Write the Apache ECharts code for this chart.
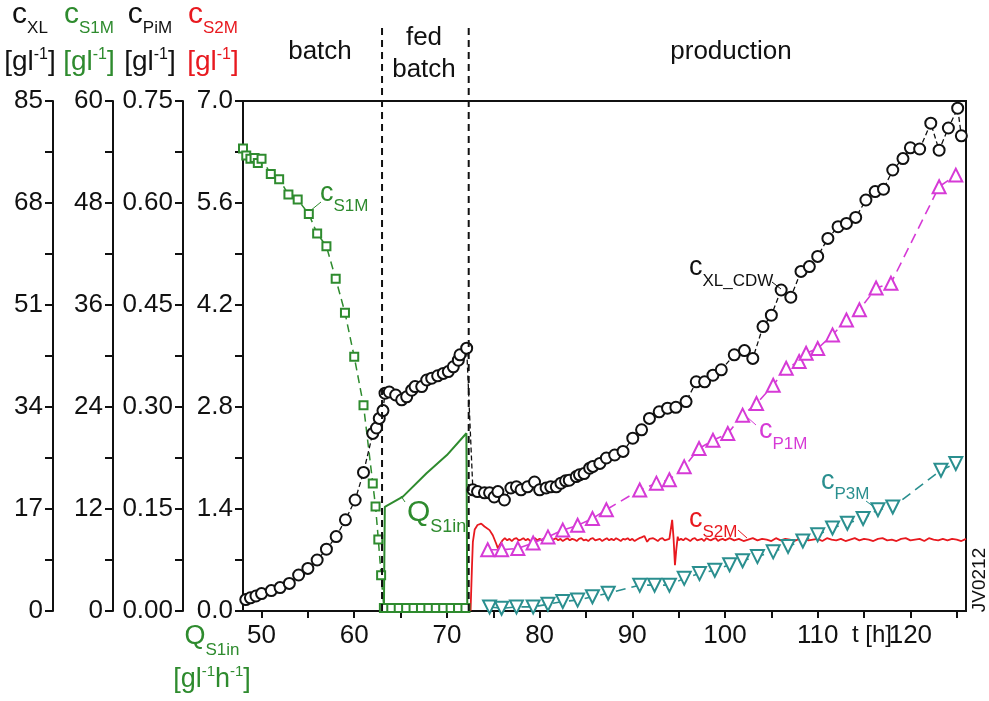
<!DOCTYPE html>
<html>
<head>
<meta charset="utf-8">
<script src="https://cdn.jsdelivr.net/npm/echarts@6/dist/echarts.min.js"></script>
<style>
  html, body { margin: 0; padding: 0; background: #fff; }
  #chart { width: 989px; height: 701px; }
</style>
</head>
<body>
<div id="chart"></div>
<script>
// ---- time axis ----
const X_TICKS = [50, 55, 60, 65, 70, 75, 80, 85, 90, 95, 100, 105, 110, 115, 120, 125];
const X_LABELS = [50, 60, 70, 80, 90, 100, 110, 120];

// ---- left axes: label values and tick values ----
const XL_AXIS_LABELS = [0, 17, 34, 51, 68, 85];
const XL_AXIS_TICKS = [0, 8.5, 17, 25.5, 34, 42.5, 51, 59.5, 68, 76.5, 85];
const S1M_AXIS_LABELS = [0, 12, 24, 36, 48, 60];
const S1M_AXIS_TICKS = [0, 6, 12, 18, 24, 30, 36, 42, 48, 54, 60];
const PIM_AXIS_LABELS = [0, 0.15, 0.30, 0.45, 0.60, 0.75];
const PIM_AXIS_TICKS = [0, 0.075, 0.15, 0.225, 0.30, 0.375, 0.45, 0.525, 0.60, 0.675, 0.75];
const S2M_AXIS_LABELS = [0, 1.4, 2.8, 4.2, 5.6, 7.0];
const S2M_AXIS_TICKS = [0, 0.7, 1.4, 2.1, 2.8, 3.5, 4.2, 4.9, 5.6, 6.3, 7.0];

// ---- process phase boundaries [h] ----
const PHASE_BOUNDS = [63.0, 72.35];

// ---- biomass c_XL_CDW [g/l] ----
const XL_T = [48.3, 48.8, 49.4, 50.0, 51.05, 52.0, 53.0, 54.0, 55.0, 56.0, 57.0, 58.05, 59.05, 60.1, 61.0, 62.0, 62.4, 62.7, 63.1,
  63.32, 63.78, 64.47, 65.12, 65.66, 66.2, 66.56, 67.28, 67.82, 68.36, 69.0, 69.61, 70.15, 70.69, 71.23, 71.41, 72.13,
  72.8, 73.3, 74.05, 74.6, 75.1, 75.5, 76.2, 76.9, 77.5, 78.0, 78.7, 79.45, 80.0, 80.7, 81.2, 81.8, 82.3, 82.8, 83.2, 83.95,
  84.3, 84.8, 85.4, 85.75, 86.5, 87.2, 88.1, 89.0, 90.05, 91.0, 91.85, 92.9, 93.8, 94.7, 95.8, 96.9, 97.8, 98.7, 99.6,
  101.0, 102.1, 103.0, 104.1, 105.0, 106.06, 107.1, 108.2, 109.1, 110.0, 111.1, 112.2, 113.1, 114.1, 115.2, 116.2, 117.1,
  118.1, 119.2, 120.0, 121.0, 122.2, 123.1, 124.1, 125.1, 125.5];
const XL_V = [1.9, 2.2, 2.5, 2.9, 3.4, 3.9, 4.6, 6.0, 7.1, 8.5, 10.3, 12.4, 15.2, 18.5, 23.1, 29.6, 30.5, 32.1, 33.4,
  36.3, 36.5, 36.0, 35.2, 35.7, 36.8, 37.4, 37.4, 38.5, 38.8, 39.2, 39.6, 39.9, 40.7, 41.8, 42.7, 43.8,
  20.2, 19.9, 19.7, 19.7, 19.0, 19.9, 18.5, 20.5, 20.7, 20.2, 20.7, 21.5, 20.2, 20.5, 20.7, 20.7, 21.3, 21.7, 21.8, 22.4,
  22.7, 22.9, 23.8, 24.1, 24.6, 25.5, 26.0, 26.6, 28.8, 30.2, 32.1, 33.2, 33.8, 33.95, 34.9, 38.2, 38.2, 39.3, 40.2,
  42.7, 43.4, 42.1, 47.4, 49.3, 53.5, 52.3, 56.6, 57.4, 59.1, 62.1, 64.05, 64.6, 65.6, 68.5, 69.9, 70.3,
  73.5, 75.4, 77.2, 77.0, 81.3, 76.8, 80.5, 83.8, 79.2];

// ---- substrate 1 in the medium c_S1M [g/l] ----
const S1M_T = [48.0, 48.35, 48.8, 49.25, 49.6, 50.0, 51.0, 51.9, 52.9, 53.9, 55.1, 56.0, 57.0, 58.0, 59.0, 60.0, 61.0, 62.0,
  62.3, 62.6, 62.9, 63.2, 64.0, 64.8, 65.6, 66.4, 67.2, 68.0, 68.8, 69.6, 70.4, 71.2, 72.0];
const S1M_V = [54.4, 53.6, 53.2, 53.3, 52.7, 53.2, 51.4, 50.8, 49.0, 48.4, 46.7, 44.4, 42.9, 39.1, 35.1, 29.9, 24.2, 15.0,
  12.3, 8.4, 4.2, 0.35, 0.35, 0.35, 0.35, 0.35, 0.35, 0.35, 0.35, 0.35, 0.35, 0.35, 0.35];

// ---- feed rate Q_S1in [g/(l h)] ----
const Q_T = [63.2, 63.3, 65.25, 67.8, 70.0, 72.1, 72.2];
const Q_V = [0, 1.43, 1.57, 1.89, 2.14, 2.44, 0];

// ---- substrate 2 in the medium c_S2M [g/l] ----
const S2M_T = [72.55, 72.7, 72.8, 73.0, 73.3, 73.7, 74.05, 74.6, 74.95, 75.3, 75.5, 75.7, 76.0,
  76.25, 76.5, 76.75, 77.0, 77.25, 77.5, 77.75, 78.0, 78.25, 78.5, 78.75, 79.0, 79.25, 79.5, 79.75, 80.0,
  80.25, 80.5, 80.75, 81.0, 81.25, 81.5, 81.75, 82.0, 82.25, 82.5, 82.75, 83.0, 83.25, 83.5, 83.75, 84.0,
  84.25, 84.5, 84.75, 85.0, 85.25, 85.5, 85.75, 86.0, 86.25, 86.5, 86.75, 87.0, 87.25, 87.5, 87.75, 88.0,
  88.25, 88.5, 88.75, 89.0, 89.25, 89.5, 89.75, 90.0, 90.25, 90.5, 90.75, 91.0, 91.3, 91.6, 91.85, 92.0,
  92.25, 92.5, 92.75, 93.0, 93.25, 93.5, 93.75, 94.0,
  94.2, 94.3, 94.45, 94.6, 94.75, 94.9, 95.0, 95.25, 95.5, 95.75, 96.0, 96.25, 96.5, 96.75, 97.0,
  97.25, 97.5, 97.75, 98.0, 98.25, 98.5, 98.75, 99.0, 99.25, 99.5, 99.75, 100.0, 100.5, 101.0, 101.5, 102.0,
  102.5, 103.0, 103.5, 104.0, 104.5, 105.0, 105.5, 106.0, 106.5, 107.0, 107.5, 108.0,
  108.5, 109.0, 109.5, 110.0, 110.5, 111.0, 111.5, 112.0, 112.5, 113.0, 113.5, 114.0, 114.5, 115.0, 115.5, 116.0,
  116.5, 117.0, 117.5, 118.0, 118.5, 119.0, 119.5, 120.0, 120.5, 121.0, 121.5, 122.0, 122.5, 123.0, 123.5, 124.0,
  124.5, 125.0, 125.5, 126.0];
const S2M_V = [0, 0.6, 0.95, 1.12, 1.18, 1.20, 1.16, 1.11, 1.04, 0.93, 0.86, 0.91, 0.97,
  1.00, 0.97, 0.99, 0.96, 0.99, 1.00, 0.97, 0.98, 1.00, 0.97, 0.99, 0.96, 0.98, 1.00, 0.97, 0.99,
  0.97, 1.00, 0.98, 0.96, 0.99, 0.98, 1.00, 0.97, 0.99, 0.96, 0.98, 1.00, 0.97, 0.99, 0.98, 0.96,
  0.99, 1.00, 0.97, 0.98, 0.96, 0.99, 1.00, 0.97, 0.98, 0.99, 0.96, 0.98, 1.00, 0.97, 0.99, 0.97,
  1.00, 0.98, 0.96, 0.99, 0.98, 1.00, 0.97, 0.99, 0.96, 0.98, 1.00, 1.01, 1.03, 0.95, 0.99, 0.97,
  1.00, 0.98, 0.96, 0.99, 1.00, 0.97, 0.98, 0.99,
  0.99, 1.25, 1.00, 0.63, 0.85, 1.02, 0.97, 0.99, 0.97, 1.00, 0.98, 0.96, 0.99, 1.00, 0.97,
  0.98, 0.99, 0.96, 1.00, 0.98, 0.97, 0.99, 1.00, 0.96, 0.98, 0.99, 0.97, 1.00, 0.97, 0.99, 0.96,
  0.98, 1.00, 0.97, 0.99, 0.98, 0.96, 1.00, 0.97, 0.99, 0.98, 0.96, 0.99,
  1.00, 0.97, 0.98, 0.99, 0.96, 1.00, 0.98, 0.97, 0.99, 0.96, 0.98, 1.00, 0.97, 0.99, 0.98, 0.96,
  0.99, 1.00, 0.97, 0.98, 0.96, 0.99, 1.00, 0.97, 0.98, 0.99, 0.96, 1.00, 0.98, 0.97, 0.99, 0.97,
  0.99, 0.98, 0.96, 0.99];

// ---- product P1 c_P1M [g/l] ----
const P1M_T = [74.4, 75.9, 77.65, 79.3, 80.9, 82.5, 84.1, 85.7, 87.2, 90.8, 92.6, 94.0, 95.6, 97.2, 98.7, 100.3, 101.9,
  103.4, 105.2, 106.6, 108.0, 108.75, 110.0, 111.6, 113.1, 114.5, 116.3, 117.9, 123.1, 124.9];
const P1M_V = [0.090, 0.090, 0.092, 0.100, 0.109, 0.119, 0.126, 0.136, 0.149, 0.178, 0.188, 0.193, 0.212, 0.239, 0.251,
  0.261, 0.288, 0.305, 0.332, 0.357, 0.367, 0.379, 0.386, 0.406, 0.428, 0.443, 0.475, 0.482, 0.624, 0.641];

// ---- product P3 c_P3M [g/l] ----
const P3M_T = [74.6, 75.9, 77.5, 79.3, 80.9, 82.5, 84.1, 85.7, 87.4, 90.8, 92.4, 94.0, 95.6, 97.25, 98.9, 100.5, 101.9,
  103.5, 105.2, 106.8, 108.4, 110.0, 111.6, 113.2, 114.9, 116.5, 118.1, 123.3, 124.9];
const P3M_V = [0.006, 0.004, 0.006, 0.006, 0.010, 0.014, 0.016, 0.021, 0.026, 0.038, 0.038, 0.038, 0.048, 0.055, 0.060,
  0.068, 0.074, 0.080, 0.087, 0.095, 0.103, 0.112, 0.122, 0.129, 0.136, 0.149, 0.153, 0.207, 0.217];

// ---- styling ----
const FONT = '"Liberation Sans", Arial, Helvetica, sans-serif';
const BLACK = '#111111';
const GREEN = '#2e8b2e';
const RED = '#e8191f';
const MAGENTA = '#d63ad6';
const TEAL = '#2a8f8f';

const zip = (t, v) => t.map((x, i) => [x, v[i]]);

function yAxisDef(offset, max, labels, ticks, digits) {
  return {
    type: 'value', position: 'left', offset: offset, min: 0, max: max,
    axisLine: { show: true, onZero: false, lineStyle: { color: BLACK, width: 2 } },
    axisTick: { show: true, inside: false, length: 8, customValues: ticks, lineStyle: { color: BLACK, width: 2 } },
    axisLabel: {
      show: true, color: BLACK, fontSize: 26, fontFamily: FONT, margin: 10,
      customValues: labels, formatter: v => Number(v).toFixed(digits)
    },
    splitLine: { show: false }
  };
}

const chart = echarts.init(document.getElementById('chart'), null, { renderer: 'canvas' });

const option = {
  animation: false,
  backgroundColor: '#fff',
  grid: { left: 243, right: 23, top: 101, bottom: 90, show: true, borderColor: BLACK, borderWidth: 2, backgroundColor: 'transparent' },
  xAxis: {
    type: 'value', min: 48, max: 126, position: 'bottom',
    axisLine: { onZero: false, lineStyle: { color: BLACK, width: 2 } },
    axisTick: { show: true, length: 7, customValues: X_TICKS, lineStyle: { color: BLACK, width: 2 } },
    axisLabel: { color: BLACK, fontSize: 26, fontFamily: FONT, margin: 12, customValues: X_LABELS },
    splitLine: { show: false }
  },
  yAxis: [
    yAxisDef(0, 7.0, S2M_AXIS_LABELS, S2M_AXIS_TICKS, 1),
    yAxisDef(60, 0.75, PIM_AXIS_LABELS, PIM_AXIS_TICKS, 2),
    yAxisDef(130, 60, S1M_AXIS_LABELS, S1M_AXIS_TICKS, 0),
    yAxisDef(190, 85, XL_AXIS_LABELS, XL_AXIS_TICKS, 0)
  ],
  series: [
    {
      name: 'Q_S1in', type: 'line', yAxisIndex: 0, data: zip(Q_T, Q_V),
      showSymbol: false, lineStyle: { color: GREEN, width: 2 }, z: 3
    },
    {
      name: 'c_S1M', type: 'line', yAxisIndex: 2, data: zip(S1M_T, S1M_V),
      symbol: 'emptyRect', symbolSize: 8, itemStyle: { color: GREEN, borderWidth: 1.4 },
      lineStyle: { color: GREEN, width: 1.5, type: [8, 5] }, z: 4
    },
    {
      name: 'c_XL_CDW', type: 'line', yAxisIndex: 3, data: zip(XL_T, XL_V),
      symbol: 'emptyCircle', symbolSize: 11, itemStyle: { color: BLACK, borderWidth: 1.4 },
      lineStyle: { color: BLACK, width: 1.3, type: [5, 3] }, z: 5
    },
    {
      name: 'c_S2M', type: 'line', yAxisIndex: 0, data: zip(S2M_T, S2M_V),
      showSymbol: false, lineStyle: { color: RED, width: 1.8 }, z: 4
    },
    {
      name: 'c_P1M', type: 'line', yAxisIndex: 1, data: zip(P1M_T, P1M_V),
      symbol: 'emptyTriangle', symbolSize: 13, itemStyle: { color: MAGENTA, borderWidth: 1.5 },
      lineStyle: { color: MAGENTA, width: 1.6, type: [10, 6] }, z: 5
    },
    {
      name: 'c_P3M', type: 'line', yAxisIndex: 1, data: zip(P3M_T, P3M_V),
      symbol: 'emptyTriangle', symbolRotate: 180, symbolSize: 13, itemStyle: { color: TEAL, borderWidth: 1.5 },
      lineStyle: { color: TEAL, width: 1.6, type: [10, 6] }, z: 5
    }
  ].map(s => Object.assign({ silent: true, emphasis: { disabled: true }, clip: true }, s))
};

chart.setOption(option);

// ---- text with sub/superscripts, built from pieces [text, size, dy] ----
const measureCtx = document.createElement('canvas').getContext('2d');
function textWidth(t, size) { measureCtx.font = size + 'px ' + FONT; return measureCtx.measureText(t).width; }
function composed(parts, x, baseY, color, anchor) {
  const total = parts.reduce((s, p) => s + textWidth(p[0], p[1]), 0);
  let cx = anchor === 'center' ? x - total / 2 : (anchor === 'right' ? x - total : x);
  return parts.map(([t, size, dy]) => {
    const el = {
      type: 'text', silent: true, z: 100,
      style: { text: t, x: cx, y: baseY + (dy || 0) - 0.35 * size, font: size + 'px ' + FONT, fill: color, align: 'left', verticalAlign: 'middle' }
    };
    cx += textWidth(t, size);
    return el;
  });
}
const unitParts = [['[gl', 28], ['-1', 16, -12], [']', 28]];
function leader(x1, y1, x2, y2, color) {
  return { type: 'line', silent: true, z: 100, shape: { x1, y1, x2, y2 }, style: { stroke: color, lineWidth: 1 } };
}

const graphics = [];
// axis titles
[
  { cx: 30, sub: 'XL', color: BLACK },
  { cx: 89, sub: 'S1M', color: GREEN },
  { cx: 150, sub: 'PiM', color: BLACK },
  { cx: 213, sub: 'S2M', color: RED }
].forEach(a => {
  graphics.push(...composed([['c', 30], [a.sub, 17, 9]], a.cx, 25, a.color, 'center'));
  graphics.push(...composed(unitParts, a.cx, 72, a.color, 'center'));
});
// feed axis title under the plot's left axis
graphics.push(...composed([['Q', 27], ['S1in', 17, 10]], 212, 646, GREEN, 'center'));
graphics.push(...composed([['[gl', 27], ['-1', 15, -12], ['h', 27], ['-1', 15, -12], [']', 27]], 212, 689, GREEN, 'center'));

// phase names
[['batch', 320, 52], ['fed', 424, 38], ['batch', 424, 70], ['production', 731, 52]].forEach(([t, x, y]) => {
  graphics.push({ type: 'text', silent: true, z: 100, style: { text: t, x, y, font: '26px ' + FONT, fill: BLACK, align: 'center', verticalAlign: 'middle' } });
});

// phase boundaries
const gridBottom = chart.convertToPixel({ yAxisIndex: 0 }, 0);
PHASE_BOUNDS.forEach(t => {
  const px = chart.convertToPixel({ xAxisIndex: 0 }, t);
  graphics.push({ type: 'line', silent: true, z: 90, shape: { x1: px, y1: 28, x2: px, y2: gridBottom }, style: { stroke: BLACK, lineWidth: 2, lineDash: [7, 5] } });
});

// series labels with leader lines
graphics.push(...composed([['c', 27], ['S1M', 17, 9]], 320, 203, GREEN, 'left'), leader(310, 211, 321, 202, GREEN));
graphics.push(...composed([['c', 27], ['XL_CDW', 17, 10]], 689, 277, BLACK, 'left'), leader(772, 282, 781, 289, BLACK));
graphics.push(...composed([['c', 27], ['P1M', 17, 10]], 759, 440, MAGENTA, 'left'), leader(747, 417, 756, 425, MAGENTA));
graphics.push(...composed([['c', 27], ['P3M', 17, 9]], 821, 491, TEAL, 'left'), leader(866, 501, 874, 507, TEAL));
graphics.push(...composed([['c', 27], ['S2M', 17, 9]], 689, 529, RED, 'left'), leader(738, 530, 747, 538, RED));
graphics.push(...composed([['Q', 30], ['S1in', 18, 10]], 407, 523, GREEN, 'left'), leader(401, 496, 405, 502, GREEN));

// time axis name
graphics.push({ type: 'text', silent: true, z: 100, style: { text: 't [h]', x: 872, y: 635, font: '24px ' + FONT, fill: BLACK, align: 'center', verticalAlign: 'middle' } });
// run id
graphics.push({ type: 'text', silent: true, z: 100, x: 980, y: 580, rotation: Math.PI / 2, style: { text: 'JV0212', x: 0, y: 0, font: '19px ' + FONT, fill: BLACK, align: 'center', verticalAlign: 'middle' } });

chart.setOption({ graphic: graphics });
</script>
</body>
</html>
